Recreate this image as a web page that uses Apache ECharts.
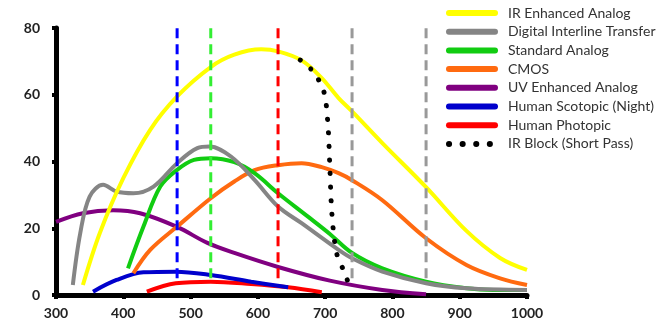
<!DOCTYPE html>
<html>
<head>
<meta charset="utf-8">
<script src="https://cdn.jsdelivr.net/npm/echarts@6/dist/echarts.min.js"></script>
<style>
html,body{margin:0;padding:0;background:#fff;}
#chart{width:666px;height:324px;}
</style>
</head>
<body>
<div id="chart"></div>
<script>
// wavelength (nm) / relative response
var irWl=[340,365,400,440,480,530,565,605,630,665,695,720,740,785,850,910,960,1000]
var irVal=[3,18.5,35,49.5,59.5,68.3,72,73.6,73,70.3,65,59,55,45.5,32.3,19.2,11.1,7.5]
var digWl=[325,336,350,370,390,415,445,480,510,528,560,595,630,665,720,740,785,850,910,1000]
var digVal=[3,18.5,29.5,33,31,30.5,32.5,39.5,44,44.5,41.5,34.5,26.5,21.5,13.5,11,7,3.5,2,1.5]
var stdWl=[407,430,455,480,505,530,565,595,630,675,707,740,785,850,910,950,1000]
var stdVal=[8,20.5,32.5,37.5,40.5,41,39.8,36.5,30.5,23.4,18.3,12.6,8,4,2,1.5,1.5]
var cmosWl=[415,440,480,530,565,595,630,665,695,720,740,785,850,910,960,1000]
var cmosVal=[6.5,13.5,20.5,29,34,37.4,38.9,39.5,38.3,36.5,34.4,28.4,17,9,5,3]
var uvWl=[300,340,385,425,480,525,565,630,707,785,850]
var uvVal=[21.9,24.5,25.4,24.5,20.4,15.6,12.6,8.4,4.3,1.5,0.2]
var scoWl=[355,390,430,478,530,590,645]
var scoVal=[1,4.5,6.8,7,6,4,2.3]
var phoWl=[435,478,530,590,645,695]
var phoVal=[1,3.5,4,3.3,2.3,0.8]
var irbWl=[663,682,698,704,707,710,717,731,737]
var irbVal=[70.4,67,61,51.5,38.3,24.5,12.6,5.7,1.5]
// vertical dashed marker lines
var markWl=[480,530,630,740,850]
var markColor=['#0000ff','#33ee33','#ff0000','#999999','#999999']
var markTop=81.5
var markBottom=5

function pairs(xs,ys){
	var out=[]
	for(var i=0;i<xs.length;i++){out.push([xs[i],ys[i]])}
	return out
}
function curve(name,color,xs,ys,z){
	return {
		name:name,
		type:'line',
		smooth:0.35,
		symbol:'none',
		z:z,
		lineStyle:{color:color,width:4},
		itemStyle:{color:color},
		data:pairs(xs,ys)
	}
}

var series=[
	curve('UV Enhanced Analog','#800080',uvWl,uvVal,2),
	curve('Human Photopic','#ff0000',phoWl,phoVal,2),
	curve('Human Scotopic (Night)','#0000cc',scoWl,scoVal,2),
	curve('CMOS','#ff6a10',cmosWl,cmosVal,2),
	curve('Standard Analog','#11cc11',stdWl,stdVal,2),
	curve('Digital Interline Transfer','#858585',digWl,digVal,2),
	curve('IR Enhanced Analog','#ffff00',irWl,irVal,2)
]
for(var k=0;k<markWl.length;k++){
	series.push({
		name:'mark'+k,
		type:'line',
		symbol:'none',
		clip:false,
		z:3,
		lineStyle:{color:markColor[k],width:3,type:[10,6]},
		data:[[markWl[k],markBottom],[markWl[k],markTop]]
	})
}
series.push({
	name:'IR Block (Short Pass)',
	type:'line',
	smooth:0.3,
	symbol:'none',
	z:4,
	lineStyle:{color:'#000',width:5,type:[0.1,13.5],cap:'round'},
	itemStyle:{color:'#000'},
	data:pairs(irbWl,irbVal)
})

var mychart=echarts.init(document.getElementById('chart'))
var option={
	animation:false,
	backgroundColor:'#fff',
	grid:{left:56,right:139,top:28,bottom:29},
	legend:{
		orient:'vertical',
		left:441,
		top:1,
		itemWidth:46,
		itemHeight:12,
		itemGap:4.7,
		itemStyle:{opacity:0},//hide the circle on line icons
		lineStyle:{width:6,cap:'round'},
		textStyle:{fontFamily:'Lato',fontSize:14,color:'#333',padding:[0,0,0,8]},
		data:['IR Enhanced Analog','Digital Interline Transfer','Standard Analog','CMOS',
			'UV Enhanced Analog','Human Scotopic (Night)','Human Photopic','IR Block (Short Pass)']
	},
	xAxis:{
		type:'value',
		min:300,max:1000,interval:100,
		axisLine:{lineStyle:{color:'#000',width:5}},
		axisTick:{length:4,lineStyle:{color:'#000',width:4}},
		axisLabel:{color:'#222',fontFamily:'Lato',fontWeight:'bold',fontSize:14,margin:11,
			formatter:function(v){return String(v)}},
		splitLine:{show:false}
	},
	yAxis:{
		type:'value',
		min:0,max:80,interval:20,
		axisLine:{show:true,lineStyle:{color:'#000',width:5}},
		axisTick:{show:true,length:4,lineStyle:{color:'#000',width:4}},
		axisLabel:{color:'#222',fontFamily:'Lato',fontWeight:'bold',fontSize:14,margin:16},
		splitLine:{show:false}
	},
	series:series
}
mychart.setOption(option)
</script>
</body>
</html>
